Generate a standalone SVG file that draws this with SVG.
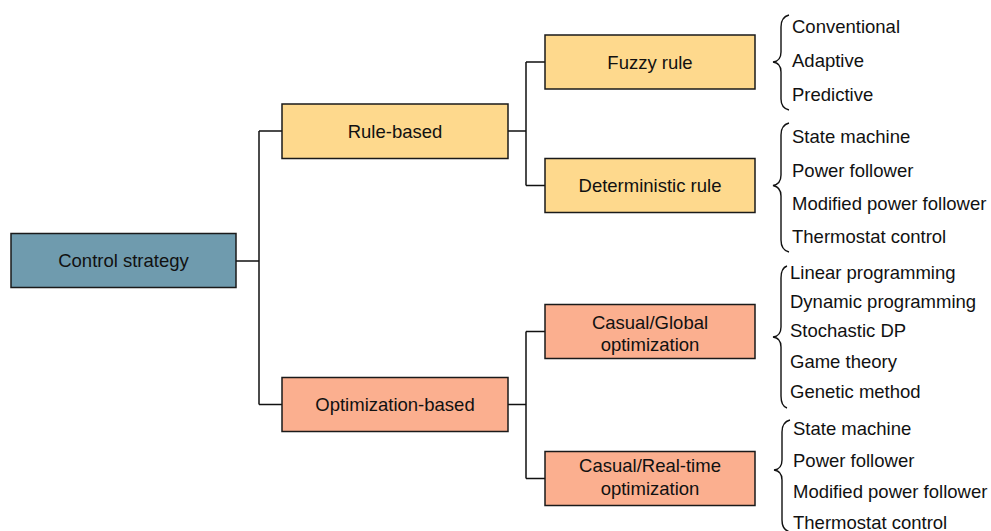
<svg xmlns="http://www.w3.org/2000/svg" width="991" height="531" viewBox="0 0 991 531">
  <style>
    .box { stroke: #1a1a1a; stroke-width: 1.5; }
    .root { fill: #6f9bae; }
    .rule { fill: #fed98d; }
    .opt { fill: #fbaf8f; }
    .lbl { font-family: "Liberation Sans", Arial, sans-serif; font-size: 18.5px; fill: #111; text-anchor: middle; }
    .item { font-family: "Liberation Sans", Arial, sans-serif; font-size: 18.5px; fill: #111; }
    .wire { fill: none; stroke: #111; stroke-width: 1.5; }
    .brace { fill: none; stroke: #111; stroke-width: 1.4; }
  </style>
  <rect width="991" height="531" fill="#ffffff"/>

  <!-- tree connectors -->
  <g id="connectors">
    <path class="wire" d="M236 261 H259 M259 131 V404.5 M259 131 H282 M259 404.5 H282"/>
    <path class="wire" d="M508 131 H526 M526 62 V185.5 M526 62 H545 M526 185.5 H545"/>
    <path class="wire" d="M508 404.5 H526 M526 331.5 V478.5 M526 331.5 H545 M526 478.5 H545"/>
  </g>

  <g id="control-strategy">
    <rect class="box root" x="11" y="233.5" width="225" height="54"/>
    <text class="lbl" x="123.5" y="267">Control strategy</text>
  </g>

  <g id="rule-based">
    <rect class="box rule" x="282" y="104" width="226" height="54.5"/>
    <text class="lbl" x="395" y="137.5">Rule-based</text>
  </g>

  <g id="optimization-based">
    <rect class="box opt" x="282" y="377.5" width="226" height="54"/>
    <text class="lbl" x="395" y="411">Optimization-based</text>
  </g>

  <g id="fuzzy-rule">
    <rect class="box rule" x="545" y="35" width="210" height="54"/>
    <text class="lbl" x="650" y="68.5">Fuzzy rule</text>
  </g>

  <g id="deterministic-rule">
    <rect class="box rule" x="545" y="158.5" width="210" height="54"/>
    <text class="lbl" x="650" y="192">Deterministic rule</text>
  </g>

  <g id="casual-global">
    <rect class="box opt" x="545" y="304.5" width="210" height="54"/>
    <text class="lbl" x="650" y="328.5">Casual/Global</text>
    <text class="lbl" x="650" y="351">optimization</text>
  </g>

  <g id="casual-realtime">
    <rect class="box opt" x="545" y="451.5" width="210" height="54"/>
    <text class="lbl" x="650" y="472">Casual/Real-time</text>
    <text class="lbl" x="650" y="494.5">optimization</text>
  </g>

  <!-- fuzzy rule variants -->
  <g id="fuzzy-list">
    <path class="brace" d="M789 15 Q781 17 781 27 V52 Q781 61 773 62 Q781 63 781 72 V99 Q781 108 789 110"/>
    <text class="item" x="792" y="33">Conventional</text>
    <text class="item" x="792" y="67">Adaptive</text>
    <text class="item" x="792" y="101">Predictive</text>
  </g>

  <!-- deterministic rule variants -->
  <g id="deterministic-list">
    <path class="brace" d="M789 123 Q781 125 781 135 V175 Q781 184 773 185.5 Q781 187 781 196 V240 Q781 250 789 252"/>
    <text class="item" x="792" y="143">State machine</text>
    <text class="item" x="792" y="177">Power follower</text>
    <text class="item" x="792" y="210">Modified power follower</text>
    <text class="item" x="792" y="243">Thermostat control</text>
  </g>

  <!-- global optimization methods -->
  <g id="global-list">
    <path class="brace" d="M787 266 Q781 268 781 278 V327 Q781 336 773 337 Q781 338 781 347 V396 Q781 406 787 408"/>
    <text class="item" x="790" y="279">Linear programming</text>
    <text class="item" x="790" y="308">Dynamic programming</text>
    <text class="item" x="790" y="337">Stochastic DP</text>
    <text class="item" x="790" y="368">Game theory</text>
    <text class="item" x="790" y="398">Genetic method</text>
  </g>

  <!-- real-time optimization methods -->
  <g id="realtime-list">
    <path class="brace" d="M790 420 Q782 422 782 432 V460 Q782 469 774 470 Q782 471 782 480 V520 Q782 530 790 532"/>
    <text class="item" x="793" y="435">State machine</text>
    <text class="item" x="793" y="467">Power follower</text>
    <text class="item" x="793" y="498">Modified power follower</text>
    <text class="item" x="793" y="529">Thermostat control</text>
  </g>
</svg>
